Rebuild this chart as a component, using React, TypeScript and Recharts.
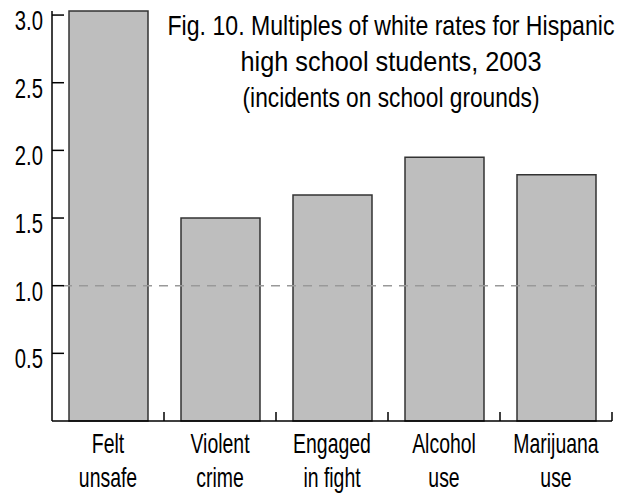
import { BarChart, Bar, XAxis, YAxis, ReferenceLine } from "recharts";

const categories = ["Felt\nunsafe", "Violent\ncrime", "Engaged\nin fight", "Alcohol\nuse", "Marijuana\nuse"];
const multiples = [3.03, 1.5, 1.67, 1.95, 1.82];
const yTicks = [0.5, 1.0, 1.5, 2.0, 2.5, 3.0];
const titleLines = [
  "Fig. 10. Multiples of white rates for Hispanic",
  "high school students, 2003",
  "(incidents on school grounds)",
];
const titleWidths = [447, 301, 297];

const FONT = "'Liberation Sans', Arial, sans-serif";
const SIZE = 27;

const data = categories.map((name, i) => ({ name, value: multiples[i] }));

// narrow text: Liberation Sans squeezed horizontally
function Narrow({ x, y, sx, anchor, width, children }: any) {
  return (
    <text
      transform={`translate(${x},${y}) scale(${sx},1)`}
      textAnchor={anchor}
      fontFamily={FONT}
      fontSize={SIZE}
      fill="#000"
      textLength={width ? width / sx : undefined}
      lengthAdjust={width ? "spacingAndGlyphs" : undefined}
    >
      {children}
    </text>
  );
}

function YTick({ x, y, payload }: any) {
  return (
    <g>
      <line x1={x} y1={y} x2={x + 12} y2={y} stroke="#000" strokeWidth={1.5} />
      <Narrow x={x - 9} y={y + 15} sx={0.75} anchor="end">
        {Number(payload.value).toFixed(1)}
      </Narrow>
    </g>
  );
}

function XTick({ x, y, payload }: any) {
  const [a, b] = String(payload.value).split("\n");
  const half = payload.offset ?? 56;
  return (
    <g>
      <line x1={x + half} y1={y} x2={x + half} y2={y - 9} stroke="#000" strokeWidth={1.5} />
      <Narrow x={x} y={y + 32} sx={0.72} anchor="middle">{a}</Narrow>
      <Narrow x={x} y={y + 66} sx={0.72} anchor="middle">{b}</Narrow>
    </g>
  );
}

export default function App() {
  return (
    <div style={{ position: "absolute", left: 0, top: 0, width: 624, height: 493, background: "#fff" }}>
      <BarChart
        width={624}
        height={493}
        data={data}
        margin={{ top: 11, right: 12, left: 0, bottom: 0 }}
      >
        <XAxis
          dataKey="name"
          height={72}
          tickLine={false}
          tickSize={0}
          tickMargin={0}
          interval={0}
          tick={<XTick />}
          axisLine={{ stroke: "#000", strokeWidth: 1.5 }}
        />
        <YAxis
          width={52}
          domain={[0, 3.03]}
          ticks={yTicks}
          tickLine={false}
          tickSize={0}
          tickMargin={0}
          tick={<YTick />}
          axisLine={{ stroke: "#000", strokeWidth: 1.5 }}
        />
        <Bar
          dataKey="value"
          barSize={79}
          fill="#bebebe"
          stroke="#333"
          strokeWidth={1.5}
          isAnimationActive={false}
        />
        <ReferenceLine
          y={1}
          shape={(p: any) => (
            <line
              x1={p.x1 + 11}
              y1={p.y1}
              x2={p.x2 - 16}
              y2={p.y2}
              stroke="#999"
              strokeWidth={1.5}
              strokeDasharray="9 7"
            />
          )}
        />
      </BarChart>
      <svg
        width={624}
        height={493}
        style={{ position: "absolute", left: 0, top: 0, pointerEvents: "none" }}
      >
        {titleLines.map((line, i) => (
          <Narrow key={line} x={391} y={35 + i * 36} sx={0.855} anchor="middle" width={titleWidths[i]}>
            {line}
          </Narrow>
        ))}
      </svg>
    </div>
  );
}
